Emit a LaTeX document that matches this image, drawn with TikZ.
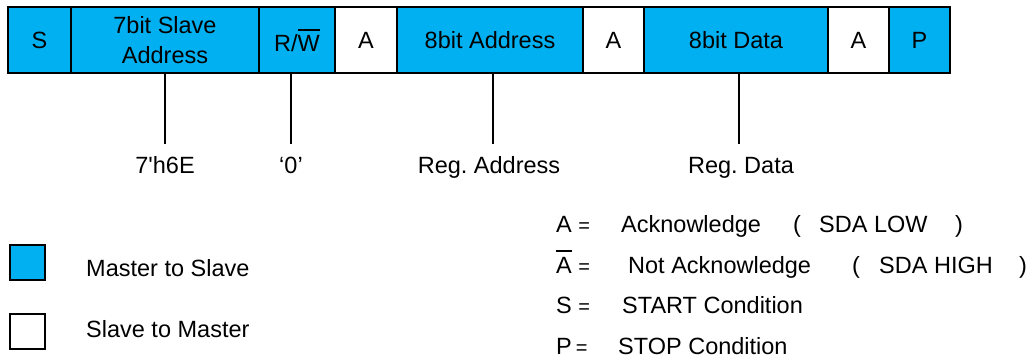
\documentclass[tikz,border=0pt]{standalone}
\usepackage{fontspec}
\setmainfont{Liberation Sans}
\frenchspacing
\definecolor{mblue}{HTML}{00B0F0}
\newcommand\ovbar[1]{\setbox0\hbox{#1}\rlap{\rule[\dimexpr\ht0+4.5pt\relax]{\wd0}{2pt}}\box0\relax}
\newcommand\smeq{{\fontsize{20}{22}\selectfont =}}
\begin{document}
\begin{tikzpicture}[x=1pt,y=-1pt,
  every node/.style={font=\fontsize{23.5}{30}\selectfont, text=black},
  fld/.style={draw=black, line width=2.5pt, minimum height=66pt, inner sep=0pt, align=center},
  mfld/.style={fld, fill=mblue},
  sfld/.style={fld, fill=white},
  lbl/.style={anchor=base, inner sep=0pt, text height=29pt},
  conn/.style={draw=black, line width=2pt},
  key/.style={draw=black, line width=2pt, minimum size=35pt, inner sep=0pt},
  txt/.style={anchor=base west, inner sep=0pt}]
\useasboundingbox (0,0) rectangle (1036,360);
% frame fields
\node[mfld, minimum width=63pt]  (bS)  at (39.5,40) {S};
\node[mfld, minimum width=188pt] (b7)  at (165,40) {7bit Slave\\Address};
\node[mfld, minimum width=76pt]  (bRW) at (297,40) {R/\ovbar{W}};
\node[sfld, minimum width=62pt]  (bA1) at (366,40) {A};
\node[mfld, minimum width=186pt] (bAd) at (490,40) {8bit Address};
\node[sfld, minimum width=61pt]  (bA2) at (613.5,40) {A};
\node[mfld, minimum width=184pt] (bD)  at (736,40) {8bit Data};
\node[sfld, minimum width=61pt]  (bA3) at (858.5,40) {A};
\node[mfld, minimum width=61pt]  (bP)  at (919.5,40) {P};
% labels
\node[lbl] (l7)  at (165,173) {7\textquotesingle h6E};
\node[lbl] (lRW) at (291,173) {`0'};
\node[lbl] (lAd) at (489,173) {Reg. Address};
\node[lbl] (lD)  at (741,173) {Reg. Data};
\draw[conn] (l7.north |- b7.south) -- (l7.north);
\draw[conn] (lRW.north |- bRW.south) -- (lRW.north);
\draw[conn] ([xshift=4pt]lAd.north |- bAd.south) -- ([xshift=4pt]lAd.north);
\draw[conn] ([xshift=-2pt]lD.north |- bD.south) -- ([xshift=-2pt]lD.north);
% direction legend
\node[key, fill=mblue] (kM) at (27,262) {};
\node[key, fill=white] (kS) at (27,331.5) {};
\node[txt] (tM) at (86,276) {Master to Slave};
\node[txt] (tS) at (86,337) {Slave to Master};
% symbol legend
\node[txt] (sA)  at (556,232) {A \smeq};
\node[txt] (dA)  at (621,232) {Acknowledge};
\node[txt] (oA)  at (793,232) {(};
\node[txt] (vA)  at (819,232) {SDA LOW};
\node[txt] (cA)  at (955,232) {)};
\node[txt] (sN)  at (556,273) {\ovbar{A} \smeq};
\node[txt] (dN)  at (628,273) {Not Acknowledge};
\node[txt] (oN)  at (852,273) {(};
\node[txt] (vN)  at (879,273) {SDA HIGH};
\node[txt] (cN)  at (1019,273) {)};
\node[txt] (sS)  at (556,313) {S \smeq};
\node[txt] (dS)  at (622,313) {START Condition};
\node[txt] (sP)  at (556,354) {P\,\smeq};
\node[txt] (dP)  at (618,354) {STOP Condition};
\end{tikzpicture}
\end{document}
